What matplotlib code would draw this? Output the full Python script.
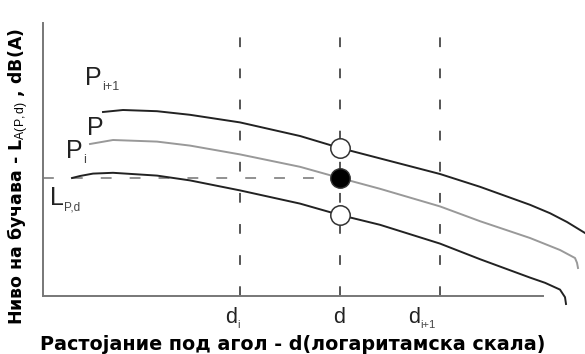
import matplotlib
matplotlib.use("Agg")
import matplotlib.pyplot as plt

plt.rcParams['mathtext.fontset'] = 'custom'
plt.rcParams['mathtext.rm'] = 'Liberation Sans'
plt.rcParams['mathtext.it'] = 'Liberation Sans:italic'

# растојание (лог. скала, условни единици) и нивоа (dB, условни)
x_upper = [12, 16, 22.8, 29.4, 39.4, 51.4, 59.4, 67.4, 79.4, 87.4, 97.4, 101.4, 104.8, 108.4]
y_upper = [46, 46.5, 46.2, 45.3, 43.4, 40, 37, 34.4, 30.5, 27.3, 22.8, 20.7, 18.5, 15.75]

x_mid = [9.4, 14, 22.8, 29.4, 39.4, 51.4, 59.4, 67.4, 79.4, 87.4, 97.4, 103.4, 106.4, 106.8, 107]
y_mid = [38, 39, 38.6, 37.6, 35.4, 32.3, 29.5, 26.8, 22.4, 18.7, 14.5, 11.5, 9.5, 8.3, 7]

x_low = [5.8, 7.4, 10, 14, 22.8, 29.4, 39.4, 51.4, 59.4, 67.4, 79.4, 87.4, 97.4, 100.4, 103.4, 104.4, 104.6]
y_low = [29.5, 30, 30.6, 30.8, 30.1, 28.9, 26.4, 23.1, 20.25, 17.8, 13.1, 9.2, 4.6, 3.3, 1.6, -0.3, -2]

d_ticks = [39.4, 59.4, 79.4]
d_label_x = [37.6, 59.2, 74.2]
d_main = ['d', 'd', 'd']
d_subs = ['i', '', 'i+1']
d_point = 59.4
L_pd = 29.5
P_upper_at_d = 37
P_low_at_d = 20.25

fig = plt.figure(figsize=(5.85, 3.54), dpi=100)
ax = fig.add_axes([43 / 585, 58 / 354, 500 / 585, 280 / 354])
ax.set_xlim(0, 100)
ax.set_ylim(0, 70)


def sub_label(x, y, main, sub, size, subsize, transform=None, ha='left'):
    kw = dict(fontsize=size, family='Liberation Sans', color='#222222', ha=ha)
    if transform is not None:
        kw['transform'] = transform
    t = ax.text(x, y, main, **kw)
    if sub:
        ax.annotate(sub, xy=(1, 0), xycoords=t, xytext=(0.2, 0), textcoords='offset points',
                    fontsize=subsize, family='Liberation Sans', color='#444444', va='baseline')
    return t


# вертикални испрекинати линии
for xd in d_ticks:
    ax.plot([xd, xd], [0, 70], color='#555555', lw=1.4, dashes=(5, 11), clip_on=False)

# хоризонтална линија L_P,d
ax.plot([0, d_point], [L_pd, L_pd], color='#888888', lw=1.3, dashes=(6, 10))

# криви
ax.plot(x_upper, y_upper, color='#222222', lw=1.4, clip_on=False)
ax.plot(x_mid, y_mid, color='#999999', lw=1.4, clip_on=False)
ax.plot(x_low, y_low, color='#222222', lw=1.4, clip_on=False)

# точки
ax.plot([d_point, d_point], [P_upper_at_d, P_low_at_d], 'o', ms=14, mfc='white',
        mec='#333333', mew=1.1, zorder=5)
ax.plot([d_point], [L_pd], 'o', ms=14, mfc='black', mec='#333333', zorder=5)

for s in ['top', 'right']:
    ax.spines[s].set_visible(False)
ax.spines['left'].set_bounds(0, 68.25)
ax.spines['left'].set_color('#777777')
ax.spines['bottom'].set_color('#777777')
ax.spines['left'].set_linewidth(1.4)
ax.spines['bottom'].set_linewidth(1.4)
ax.set_yticks([])
ax.set_xticks([])

# ознаки на x-оската
xtr = ax.get_xaxis_transform()
for xl, m, s in zip(d_label_x, d_main, d_subs):
    sub_label(xl, -0.096, m, s, 15.5, 8, transform=xtr, ha='center')

# ознаки на кривите
sub_label(8.4, 52.75, 'P', 'i+1', 18, 9)
sub_label(8.8, 40.25, 'P', '', 18, 9)
sub_label(4.6, 34.5, 'P', 'i', 18, 9)
sub_label(1.4, 22.75, 'L', 'P,d', 18, 8.5)

ax.set_xlabel('Растојание под агол - d(логаритамска скала)', fontsize=13.8,
              fontweight='bold', family='DejaVu Sans', labelpad=28)
fig.text(18 / 585, 0.5, 'Ниво на бучава - L$_{\\mathrm{A(P,d)}}$ , dB(A)', rotation=90,
         fontsize=12.5, fontweight='bold', family='DejaVu Sans', ha='center', va='center')

fig.savefig('out.png', dpi=100)
